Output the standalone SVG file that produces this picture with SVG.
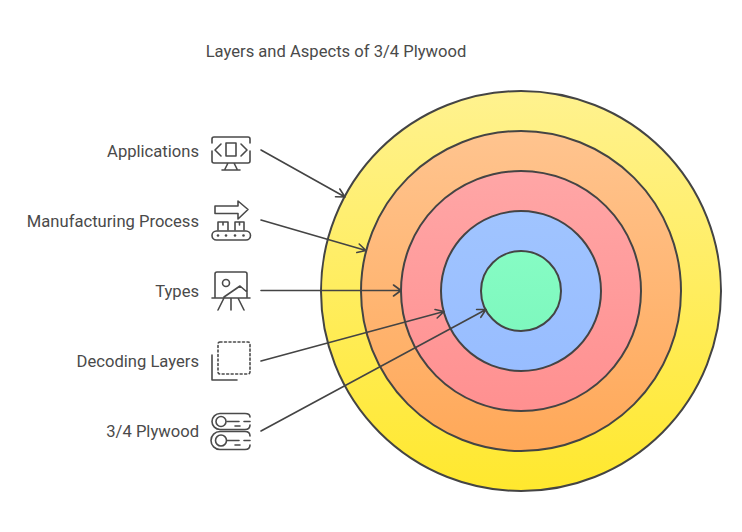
<svg xmlns="http://www.w3.org/2000/svg" width="742" height="532" viewBox="0 0 742 532">
<style>
text{font-family:Roboto,"Liberation Sans",sans-serif;font-size:16.6px;fill:#4a4a4a}
.l{text-anchor:end}
.c{stroke:#444;stroke-width:2}
.a{fill:none;stroke:#444;stroke-width:1.6;stroke-linecap:round;stroke-linejoin:round}
.i{fill:none;stroke:#4a4a4a;stroke-width:1.6;stroke-linejoin:round;stroke-linecap:round}
.d{fill:#4a4a4a}
</style>
<defs>
<linearGradient id="g1" x1="0" y1="0" x2="0" y2="1"><stop offset="0" stop-color="#fff28f"/><stop offset="1" stop-color="#ffe82e"/></linearGradient>
<linearGradient id="g2" x1="0" y1="0" x2="0" y2="1"><stop offset="0" stop-color="#ffc48f"/><stop offset="1" stop-color="#ffa858"/></linearGradient>
<linearGradient id="g3" x1="0" y1="0" x2="0" y2="1"><stop offset="0" stop-color="#ffa6a6"/><stop offset="1" stop-color="#ff9090"/></linearGradient>
<linearGradient id="g4" x1="0" y1="0" x2="0" y2="1"><stop offset="0" stop-color="#a0c4ff"/><stop offset="1" stop-color="#98bdff"/></linearGradient>
<linearGradient id="g5" x1="0" y1="0" x2="0" y2="1"><stop offset="0" stop-color="#86fcc4"/><stop offset="1" stop-color="#7ef8be"/></linearGradient>
</defs>
<rect width="742" height="532" fill="#fff"/>
<text id="title" x="336" y="57" text-anchor="middle">Layers and Aspects of 3/4 Plywood</text>
<g id="ring-applications"><circle class="c" cx="521" cy="291" r="200" fill="url(#g1)"/></g>
<g id="ring-manufacturing"><circle class="c" cx="521" cy="291" r="160" fill="url(#g2)"/></g>
<g id="ring-types"><circle class="c" cx="521" cy="291" r="120" fill="url(#g3)"/></g>
<g id="ring-decoding"><circle class="c" cx="521" cy="291" r="80" fill="url(#g4)"/></g>
<g id="ring-plywood"><circle class="c" cx="521" cy="291" r="40" fill="url(#g5)"/></g>
<g id="connectors">
<path class="a" d="M261 150L345 197M335.500 196.800L345 197L339.800 189"/>
<path class="a" d="M261 220L366 250.500M356.800 252.500L366 250.500L359.200 244"/>
<path class="a" d="M261 290.500H401M393.500 285L401 290.500L393.500 296"/>
<path class="a" d="M261 361L444 311.500M435 309.500L444 311.500L437.200 318"/>
<path class="a" d="M261 431L486 309.500M476.600 309.500L486 309.500L480.800 317.300"/>
</g>
<g id="node-applications">
<text class="l" x="199" y="157">Applications</text>
<path class="i" d="M212 143V139Q212 137 214 137H248Q250 137 250 139V143M212 151V161Q212 163 214 163H248Q250 163 250 161V151M226 143H236V156H226ZM221 144L215 150L221 156M241 144L247 150L241 156M228 163L225 169M234 163L237 169M222 170H240"/>
</g>
<g id="node-manufacturing">
<text class="l" x="199" y="227">Manufacturing Process</text>
<path class="i" d="M215 206H238V201L248 209.500L238 219V213.500H215ZM218 230V222H228V230M235 230V222H244V230M223 222V225M239.500 222V225"/>
<rect class="i" x="212" y="231" width="38.500" height="9" rx="4.500"/>
<circle class="d" cx="218" cy="235.500" r="1.300"/><circle class="d" cx="226" cy="235.500" r="1.300"/><circle class="d" cx="235" cy="235.500" r="1.300"/><circle class="d" cx="243.500" cy="235.500" r="1.300"/>
</g>
<g id="node-types">
<text class="l" x="199" y="297">Types</text>
<path class="i" d="M215 297V274Q215 272 217 272H245Q247 272 247 274V297M212 298H250M231 298V310M224 298L218 310M238 298L244 310M224 297L240 286L247 292"/>
<circle class="i" cx="226" cy="283" r="3.500"/>
</g>
<g id="node-decoding">
<text class="l" x="199" y="367">Decoding Layers</text>
<rect class="i" x="218" y="342" width="32" height="32" rx="2" stroke-dasharray="2 2.500"/>
<path class="i" d="M212 355V380H237"/>
</g>
<g id="node-plywood">
<text class="l" x="199" y="437">3/4 Plywood</text>
<path class="i" d="M250 417Q250 413.500 245 413.500H220A8 8 0 0 0 220 429.500H245Q250 429.500 250 425M250 436Q250 431.500 245 431.500H220A9 9 0 0 0 220 449.500H245Q250 449.500 250 445M227 421.500H239M244 421.500H250M235 426H240M227 440.500H239M244 440.500H250M235 445H240"/>
<circle class="i" cx="221" cy="421.500" r="5"/>
<circle class="i" cx="221" cy="440.500" r="5.500"/>
</g>
</svg>
